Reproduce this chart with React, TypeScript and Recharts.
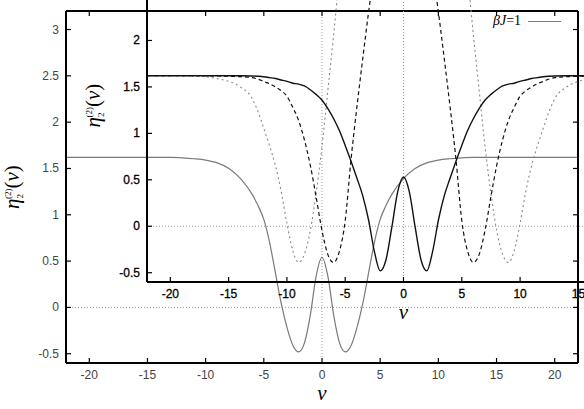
import React from 'react';
import { LineChart, Line, XAxis, YAxis, ReferenceLine, Legend } from 'recharts';

// tick labels (same for both panels)
const xTicks = [-20, -15, -10, -5, 0, 5, 10, 15, 20];
const yTicks = [-0.5, 0, 0.5, 1, 1.5, 2, 2.5, 3];

// main panel: βJ = 1 (grey solid)
const mainV = [-22, -18, -15, -13, -12, -11, -10, -9, -8, -7, -6, -5.5, -5, -4.5, -4, -3.5, -3, -2.5, -2, -1.5, -1, -0.5,
  0, 0.5, 1, 1.5, 2, 2.5, 3, 3.5, 4, 4.5, 5, 5.5, 6, 7, 8, 9, 10, 11, 12, 13, 15, 18, 22];
const mainEta = [1.62, 1.62, 1.62, 1.62, 1.615, 1.605, 1.59, 1.56, 1.5, 1.39, 1.22, 1.1, 0.95, 0.7, 0.37, 0.04, -0.22, -0.41, -0.48, -0.38, -0.08, 0.34,
  0.54, 0.34, -0.08, -0.38, -0.48, -0.41, -0.22, 0.04, 0.37, 0.7, 0.95, 1.1, 1.22, 1.39, 1.5, 1.56, 1.59, 1.605, 1.615, 1.62, 1.62, 1.62, 1.62];

// inset panel: three curves on a shared v grid
const insetV = [-22, -19, -18, -17, -16, -15, -14, -13, -12.5, -12, -11.5, -11, -10.5, -10, -9.5, -9, -8.5, -8, -7.5, -7, -6.5, -6, -5.5, -5, -4.5, -4, -3.5, -3, -2.5, -2, -1.5, -1, -0.5,
  0, 0.5, 1, 1.5, 2, 2.5, 3, 3.5, 4, 4.5, 5, 5.5, 6, 6.5, 7, 7.5, 8, 8.5, 9, 9.5, 10, 10.5, 11, 11.5, 12, 12.5, 13, 14, 15, 16, 17, 18, 19, 22];
const insetSolid = [1.62, 1.62, 1.62, 1.62, 1.62, 1.62, 1.62, 1.618, 1.615, 1.61, 1.6, 1.59, 1.575, 1.56, 1.54, 1.53, 1.51, 1.47, 1.42, 1.36, 1.27, 1.16, 1.03, 0.87, 0.7, 0.52, 0.33, 0.07, -0.27, -0.48, -0.36, -0.01, 0.37,
  0.53, 0.37, -0.01, -0.36, -0.48, -0.27, 0.07, 0.33, 0.52, 0.7, 0.87, 1.03, 1.16, 1.27, 1.36, 1.42, 1.47, 1.51, 1.53, 1.54, 1.56, 1.575, 1.59, 1.6, 1.61, 1.615, 1.618, 1.62, 1.62, 1.62, 1.62, 1.62, 1.62, 1.62];
const insetDashed = [1.62, 1.62, 1.62, 1.62, 1.618, 1.615, 1.61, 1.6, 1.585, 1.56, 1.535, 1.5, 1.46, 1.4, 1.28, 1.14, 0.93, 0.66, 0.32, -0.04, -0.3, -0.39, -0.27, 0.06, 0.72, 1.28, 1.8, 2.3, 2.75, 3.15, 3.5, 3.75, 3.9,
  3.95, 3.9, 3.75, 3.5, 3.15, 2.75, 2.3, 1.8, 1.28, 0.72, 0.06, -0.27, -0.39, -0.3, -0.04, 0.32, 0.66, 0.93, 1.14, 1.28, 1.4, 1.46, 1.5, 1.535, 1.56, 1.585, 1.6, 1.61, 1.615, 1.618, 1.62, 1.62, 1.62, 1.62];
const insetDotted = [1.62, 1.62, 1.618, 1.61, 1.59, 1.56, 1.5, 1.38, 1.24, 1.06, 0.87, 0.66, 0.38, 0.03, -0.26, -0.39, -0.3, -0.05, 0.35, 0.85, 1.45, 2.05, 2.7, 3.3, 3.8, 4.2, 4.55, 4.85, 5.1, 5.3, 5.45, 5.55, 5.6,
  5.62, 5.6, 5.55, 5.45, 5.3, 5.1, 4.85, 4.55, 4.2, 3.8, 3.3, 2.7, 2.05, 1.45, 0.85, 0.35, -0.05, -0.3, -0.39, -0.26, 0.03, 0.38, 0.66, 0.87, 1.06, 1.24, 1.38, 1.5, 1.56, 1.59, 1.61, 1.618, 1.62, 1.62];

const mainData = mainV.map((v, i) => ({ v, eta: mainEta[i] }));
const insetData = insetV.map((v, i) => ({
  v,
  solid: insetSolid[i],
  dashed: insetDashed[i],
  dotted: insetDotted[i],
}));

const W = 584;
const H = 409;
const SHIFT = 81; // inset uses the same frame, moved right and up
const TICK = 5;
const SANS = '"Liberation Sans", Arial, sans-serif';
const SERIF = '"Liberation Serif", "Times New Roman", serif';

type TextStyle = { fill: string; stroke?: string; strokeWidth?: number };

const bottomTick = (s: TextStyle) => (p: any) => (
  <g>
    <line x1={p.x} x2={p.x} y1={p.y} y2={p.y - TICK} stroke="#000" strokeWidth={1.2} />
    <text x={p.x} y={p.y + 16} textAnchor="middle" fontFamily={SANS} fontSize={12} {...s}>
      {p.payload.value}
    </text>
  </g>
);

const leftTick = (s: TextStyle) => (p: any) => (
  <g>
    <line x1={p.x} x2={p.x + TICK} y1={p.y} y2={p.y} stroke="#000" strokeWidth={1.2} />
    <text x={p.x - 7} y={p.y + 4} textAnchor="end" fontFamily={SANS} fontSize={12} {...s}>
      {p.payload.value}
    </text>
  </g>
);

const topTick = (p: any) => (
  <line x1={p.x} x2={p.x} y1={p.y} y2={p.y + TICK} stroke="#000" strokeWidth={1.2} />
);

const rightTick = (p: any) => (
  <line x1={p.x} x2={p.x - TICK} y1={p.y} y2={p.y} stroke="#000" strokeWidth={1.2} />
);

const xTitle = (p: any) => {
  const vb = p.viewBox;
  return (
    <text x={vb.x + vb.width / 2} y={vb.y + 37} textAnchor="middle" fontFamily={SERIF} fontStyle="italic" fontSize={21} fill="#000">
      ν
    </text>
  );
};

const yTitle = (p: any) => {
  const vb = p.viewBox;
  const cx = vb.x + 19;
  const cy = vb.y + vb.height / 2;
  return (
    <text x={cx} y={cy} transform={`rotate(-90 ${cx} ${cy})`} textAnchor="middle" fontFamily={SERIF} fontSize={21} fill="#000">
      <tspan fontStyle="italic">η</tspan>
      <tspan fontSize={9} dy={4}>2</tspan>
      <tspan fontSize={9} dx={-5} dy={-12}>(2)</tspan>
      <tspan dy={8}>(</tspan>
      <tspan fontStyle="italic">ν</tspan>
      <tspan>)</tspan>
    </text>
  );
};

const legendContent = (p: any) => {
  const item = p.payload ? p.payload.find((e: any) => e.value === 'βJ=1') : null;
  const color = item ? item.color : '#7a7a7a';
  return (
    <div style={{ display: 'flex', alignItems: 'center', fontFamily: SERIF, fontSize: 14, color: '#000', lineHeight: '16px' }}>
      <span>
        <i>βJ</i>=1
      </span>
      <span style={{ display: 'inline-block', width: 33, borderTop: `1.3px solid ${color}`, marginLeft: 7 }} />
    </div>
  );
};

const axisLine = { stroke: '#000', strokeWidth: 2 };
const margin = { top: 10, right: 5, bottom: 16, left: 0 };

function MainPanel() {
  const s: TextStyle = { fill: '#444' };
  return (
    <LineChart width={W} height={H} data={mainData} margin={margin}>
      <XAxis dataKey="v" type="number" domain={[-22, 22]} ticks={xTicks} allowDataOverflow height={30}
        tickSize={0} tickMargin={0} tickLine={false} axisLine={axisLine} tick={bottomTick(s)} label={xTitle} />
      <YAxis type="number" domain={[-0.6, 3.2]} ticks={yTicks} allowDataOverflow width={66}
        tickSize={0} tickMargin={0} tickLine={false} axisLine={axisLine} tick={leftTick(s)} label={yTitle} />
      <XAxis xAxisId="top" orientation="top" dataKey="v" type="number" domain={[-22, 22]} ticks={xTicks} allowDataOverflow height={1}
        tickSize={0} tickMargin={0} tickLine={false} axisLine={axisLine} tick={topTick} />
      <YAxis yAxisId="right" orientation="right" type="number" domain={[-0.6, 3.2]} ticks={yTicks} allowDataOverflow width={1}
        tickSize={0} tickMargin={0} tickLine={false} axisLine={axisLine} tick={rightTick} />
      <ReferenceLine x={0} stroke="#999" strokeDasharray="1 2" />
      <ReferenceLine y={0} stroke="#999" strokeDasharray="1 2" />
      <Line dataKey="eta" name="βJ=1" type="monotone" stroke="#7a7a7a" strokeWidth={1.2} dot={false} isAnimationActive={false} />
      {/* same series bound to the mirror axes so they get a scale; not drawn */}
      <Line xAxisId="top" yAxisId="right" dataKey="eta" name="mirror" legendType="none" type="monotone" stroke="none" dot={false} activeDot={false} isAnimationActive={false} />
      <Legend verticalAlign="middle" align="center" layout="horizontal"
        wrapperStyle={{ top: 13, left: 493, width: 80, height: 16 }} content={legendContent} />
    </LineChart>
  );
}

function InsetPanel() {
  const s: TextStyle = { fill: '#000', stroke: '#000', strokeWidth: 0.3 };
  return (
    <LineChart width={W} height={H} data={insetData} margin={margin}>
      <XAxis dataKey="v" type="number" domain={[-22, 22]} ticks={xTicks} allowDataOverflow height={30}
        tickSize={0} tickMargin={0} tickLine={false} axisLine={axisLine} tick={bottomTick(s)} label={xTitle} />
      <YAxis type="number" domain={[-0.6, 3.2]} ticks={yTicks} allowDataOverflow width={66}
        tickSize={0} tickMargin={0} tickLine={false} axisLine={axisLine} tick={leftTick(s)} label={yTitle} />
      <ReferenceLine x={0} stroke="#999" strokeDasharray="1 2" />
      <ReferenceLine y={0} stroke="#999" strokeDasharray="1 2" />
      <Line dataKey="dotted" type="monotone" stroke="#888" strokeWidth={1.1} strokeDasharray="2 3" dot={false} isAnimationActive={false} />
      <Line dataKey="dashed" type="monotone" stroke="#111" strokeWidth={1.2} strokeDasharray="4 3" dot={false} isAnimationActive={false} />
      <Line dataKey="solid" type="monotone" stroke="#111" strokeWidth={1.4} dot={false} isAnimationActive={false} />
    </LineChart>
  );
}

export default function App() {
  return (
    <div style={{ position: 'fixed', left: 0, top: 0, width: W, height: H, overflow: 'hidden', background: '#fff' }}>
      <div style={{ position: 'absolute', left: 0, top: 0 }}>
        <MainPanel />
      </div>
      <div style={{ position: 'absolute', left: SHIFT, top: -SHIFT }}>
        <InsetPanel />
      </div>
    </div>
  );
}
